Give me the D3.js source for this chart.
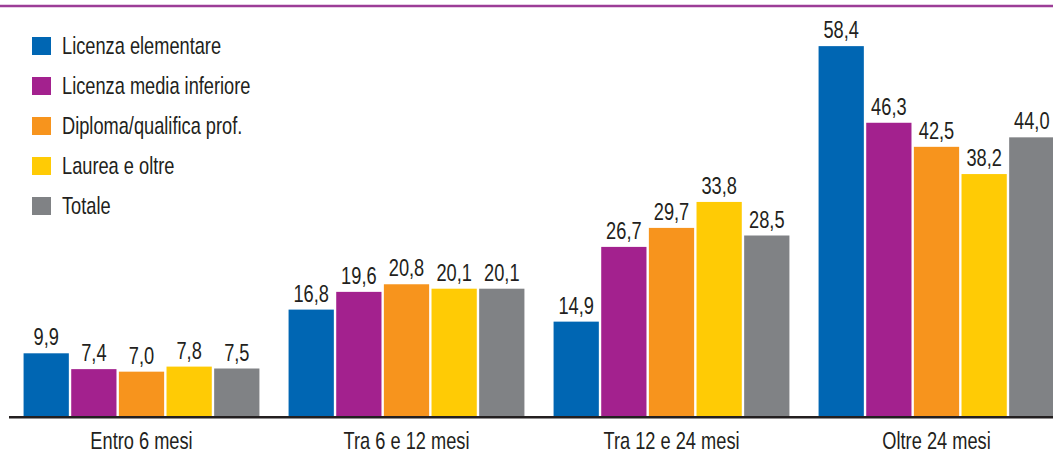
<!DOCTYPE html>
<html><head><meta charset="utf-8">
<script src="https://cdn.jsdelivr.net/npm/d3@7"></script>
<style>
html,body{margin:0;padding:0;background:#fff;}
svg text{font-family:"Liberation Sans",Arial,sans-serif;fill:#231f20;}
</style></head>
<body><svg id="c" width="1053" height="454"></svg>
<script>
const categories = ["Entro 6 mesi","Tra 6 e 12 mesi","Tra 12 e 24 mesi","Oltre 24 mesi"];
const seriesNames = ["Licenza elementare","Licenza media inferiore","Diploma/qualifica prof.","Laurea e oltre","Totale"];
const seriesColors = ["#0066b3","#a3218e","#f7941d","#ffcb05","#808285"];
const licenzaElementare = [9.9,16.8,14.9,58.4];
const licenzaMedia = [7.4,19.6,26.7,46.3];
const diploma = [7.0,20.8,29.7,42.5];
const laurea = [7.8,20.1,33.8,38.2];
const totale = [7.5,20.1,28.5,44.0];
const seriesValues = [licenzaElementare,licenzaMedia,diploma,laurea,totale];

const svg = d3.select("#c");
const baseY = 416;
const SX = 0.76, FS = 24;
const x0 = d3.scaleBand().domain(categories).range([9,1069]).paddingInner(0.11).paddingOuter(0.055);
const x1 = d3.scaleBand().domain(seriesNames).range([0,x0.bandwidth()]).paddingInner(0.05).paddingOuter(0);
const y = d3.scaleLinear().domain([0,60]).range([baseY,36]);
const fmt = v => v.toFixed(1).replace(".",",");

// top purple rule
svg.append("line").attr("x1",0).attr("x2",1053).attr("y1",6).attr("y2",6)
  .attr("stroke","#9c3d97").attr("stroke-width",2.5);

const data = [];
categories.forEach((c,i)=>seriesNames.forEach((s,j)=>data.push({c,s,j,v:seriesValues[j][i]})));

const bars = svg.append("g");
bars.selectAll("rect").data(data).join("rect")
  .attr("x",d=>x0(d.c)+x1(d.s)).attr("width",x1.bandwidth())
  .attr("y",d=>y(d.v)).attr("height",d=>baseY-y(d.v))
  .attr("fill",d=>seriesColors[d.j]);
bars.selectAll("text").data(data).join("text")
  .attr("transform",d=>`translate(${x0(d.c)+x1(d.s)+x1.bandwidth()/2},${y(d.v)-8}) scale(${SX},1)`)
  .attr("text-anchor","middle").attr("font-size",FS).text(d=>fmt(d.v));

// x axis
const xAxis = svg.append("g").attr("transform",`translate(0,${baseY})`)
  .call(d3.axisBottom(x0).tickSize(0).tickPadding(0));
xAxis.select(".domain").remove();
xAxis.selectAll("text").attr("y",0).attr("dy",0)
  .attr("transform",`translate(0,33) scale(${SX},1)`)
  .attr("font-size",FS).attr("fill","#231f20")
  .style("font-family",'"Liberation Sans",Arial,sans-serif');
svg.append("line").attr("x1",9).attr("x2",1053).attr("y1",baseY+1.2).attr("y2",baseY+1.2)
  .attr("stroke","#231f20").attr("stroke-width",2.4);

// legend
const leg = svg.append("g").attr("transform","translate(32,37)");
const li = leg.selectAll("g").data(seriesNames).join("g").attr("transform",(d,i)=>`translate(0,${i*40})`);
li.append("rect").attr("width",19).attr("height",18).attr("fill",(d,i)=>seriesColors[i]);
li.append("text").attr("transform",`translate(30,17) scale(${SX},1)`).attr("font-size",FS).text(d=>d);
</script></body></html>
